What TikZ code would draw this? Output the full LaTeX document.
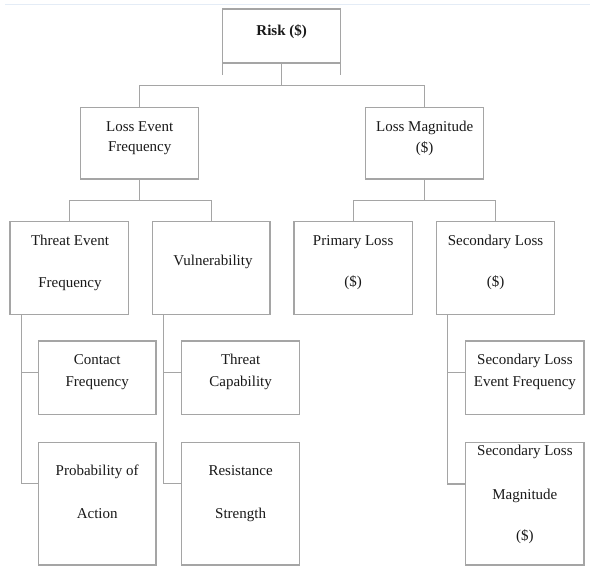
\documentclass[tikz,border=0pt]{standalone}
\usepackage{fontspec}
\setmainfont{Liberation Serif}
\usetikzlibrary{calc}
\definecolor{linegray}{RGB}{165,165,165}
\definecolor{boxgray}{RGB}{165,165,165}
\definecolor{txtcol}{RGB}{25,25,25}
\definecolor{faintblue}{RGB}{228,236,246}
\tikzset{
  box/.style={draw=boxgray, line width=1.3pt, rectangle, inner sep=0pt, outer sep=0pt, anchor=north west},
  txt/.style={text=txtcol, font=\fontsize{15}{18}\selectfont, inner sep=0pt, text height=0.7em, text depth=0.2em, anchor=center},
  conn/.style={draw=linegray, line width=1.3pt},
}
\newcommand{\boxat}[5]{% name, left, top, right, bottom
  \node[box, minimum width={(#4-#2)*1pt}, minimum height={(#5-#3)*1pt}] (#1) at (#2,#3) {};}
\begin{document}
\begin{tikzpicture}[x=1pt, y=-1pt]
\useasboundingbox (0,0) rectangle (590,569);
\fill[white] (0,0) rectangle (590,569);
\draw[faintblue, line width=0.8pt] (5,4) -- (590,4);

% boxes
\boxat{risk}{222.7}{9}{340.7}{63}
\boxat{lef}{80.7}{107.3}{198.7}{179}
\boxat{lm}{365.7}{107.3}{483.7}{179}
\boxat{tef}{10}{221.7}{128.3}{314.3}
\boxat{vul}{152.3}{221.7}{270}{314.3}
\boxat{pl}{294}{221.7}{412.3}{314.3}
\boxat{sl}{436.7}{221.7}{554.3}{314.3}
\boxat{cf}{38.3}{341}{156}{414.3}
\boxat{pa}{38.3}{442.7}{156}{565}
\boxat{tc}{181.7}{341}{299.5}{414.3}
\boxat{rs}{181.7}{442.7}{299.5}{565}
\boxat{slef}{465.7}{341}{584}{414.3}
\boxat{slm}{465.7}{442.7}{584}{565}

% texts
\node[txt, font=\fontsize{15}{18}\selectfont\bfseries] (t-risk) at (281.7,33) {Risk (\$)};
\node[txt] (t-lef1) at (139.7,129) {Loss Event};
\node[txt] (t-lef2) at (139.7,149.5) {Frequency};
\node[txt] (t-lm1) at (424.7,129) {Loss Magnitude};
\node[txt] (t-lm2) at (424.7,150) {(\$)};
\node[txt] (t-tef1) at (70,242.7) {Threat Event};
\node[txt] (t-tef2) at (70,285) {Frequency};
\node[txt] (t-vul) at (213,262.7) {Vulnerability};
\node[txt] (t-pl1) at (353.2,243.3) {Primary Loss};
\node[txt] (t-pl2) at (353.2,284.3) {(\$)};
\node[txt] (t-sl1) at (495.5,243.3) {Secondary Loss};
\node[txt] (t-sl2) at (495.5,284.3) {(\$)};
\node[txt] (t-cf1) at (97.2,362.3) {Contact};
\node[txt] (t-cf2) at (97.2,384) {Frequency};
\node[txt] (t-pa1) at (97.2,473.3) {Probability of};
\node[txt] (t-pa2) at (97.2,516) {Action};
\node[txt] (t-tc1) at (240.6,362.3) {Threat};
\node[txt] (t-tc2) at (240.6,384) {Capability};
\node[txt] (t-rs1) at (240.6,473.3) {Resistance};
\node[txt] (t-rs2) at (240.6,516) {Strength};
\node[txt] (t-slef1) at (524.9,362.3) {Secondary Loss};
\node[txt] (t-slef2) at (524.9,384) {Event Frequency};
\node[txt] (t-slm1) at (524.9,453.3) {Secondary Loss};
\node[txt] (t-slm2) at (524.9,497.3) {Magnitude};
\node[txt] (t-slm3) at (524.9,537.7) {(\$)};

% junction points
\coordinate (j1) at (281.7,85.7);
\coordinate (j2) at (139.7,200.7);
\coordinate (j3) at (424.7,200.7);

% risk legs and top tree
\draw[conn] (risk.south west) -- ++(0,12);
\draw[conn] (risk.south east) -- ++(0,12);
\draw[conn] (risk.south) -- (j1);
\draw[conn] (lef.north) |- (j1) -| (lm.north);

% second level
\draw[conn] (lef.south) -- (j2);
\draw[conn] (tef.north) |- (j2) -| (vul.north);
\draw[conn] (lm.south) -- (j3);
\draw[conn] (pl.north) |- (j3) -| (sl.north);

% spines
\coordinate (s1a) at (21.7,372.3);
\coordinate (s1b) at (21.7,483.3);
\draw[conn] ([xshift=11.7pt]tef.south west) -- (s1b) -- (pa.west |- s1b);
\draw[conn] (s1a) -- (cf.west |- s1a);

\coordinate (s2a) at (163.3,372.3);
\coordinate (s2b) at (163.3,483.3);
\draw[conn] ([xshift=11pt]vul.south west) -- (s2b) -- (rs.west |- s2b);
\draw[conn] (s2a) -- (tc.west |- s2a);

\coordinate (s3a) at (447.7,372.3);
\coordinate (s3b) at (447.7,484);
\draw[conn] ([xshift=11pt]sl.south west) -- (s3b) -- (slm.west |- s3b);
\draw[conn] (s3a) -- (slef.west |- s3a);
\end{tikzpicture}
\end{document}
